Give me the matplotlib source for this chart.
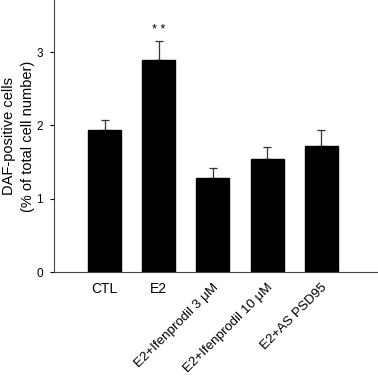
import matplotlib
matplotlib.use("Agg")
import matplotlib.pyplot as plt
import numpy as np

plt.rcParams['font.family'] = ['Liberation Sans', 'DejaVu Sans']

categories = ["CTL", "E2", "E2+Ifenprodil 3 μM", "E2+Ifenprodil 10 μM", "E2+AS PSD95"]
values = [1.94, 2.89, 1.28, 1.54, 1.72]
errors = [0.13, 0.26, 0.14, 0.16, 0.22]
yticks = [0, 1, 2, 3]

fig = plt.figure(figsize=(3.78, 3.80), dpi=100)
ax = fig.add_axes([0.143, 0.284, 0.857, 0.716])
x = np.arange(len(categories))
ax.bar(x, values, width=0.61, color='black', edgecolor='black', zorder=2)
ax.errorbar(x, values, yerr=[np.zeros(len(values)), errors], fmt='none',
            ecolor='#333333', elinewidth=0.9, capsize=3, capthick=0.9, zorder=1)
ax.text(x[1], values[1] + errors[1] + 0.07, "* *", ha='center', va='bottom', fontsize=9)

ax.set_xlim(-0.935, 5.05)
ax.set_ylim(0, 3.71)
ax.set_yticks(yticks)
ax.set_yticklabels([str(t) for t in yticks], fontsize=8.5)
ax.tick_params(axis='y', direction='out', length=3, width=0.8, pad=5)
ax.tick_params(axis='x', length=0, pad=7)
ax.set_xticks(x)
labels = ax.set_xticklabels(categories, fontsize=10)
for i, lab in enumerate(labels):
    if i >= 2:
        lab.set_rotation(45)
        lab.set_ha('right')
        lab.set_rotation_mode('anchor')
        lab.set_fontsize(9.6)
for s in ['top', 'right']:
    ax.spines[s].set_visible(False)
for s in ['left', 'bottom']:
    ax.spines[s].set_linewidth(0.8)
    ax.spines[s].set_color('#444444')
ax.set_ylabel("DAF-positive cells\n(% of total cell number)", fontsize=10.5,
              labelpad=1, linespacing=1.45)

fig.savefig("out.png", dpi=100)
